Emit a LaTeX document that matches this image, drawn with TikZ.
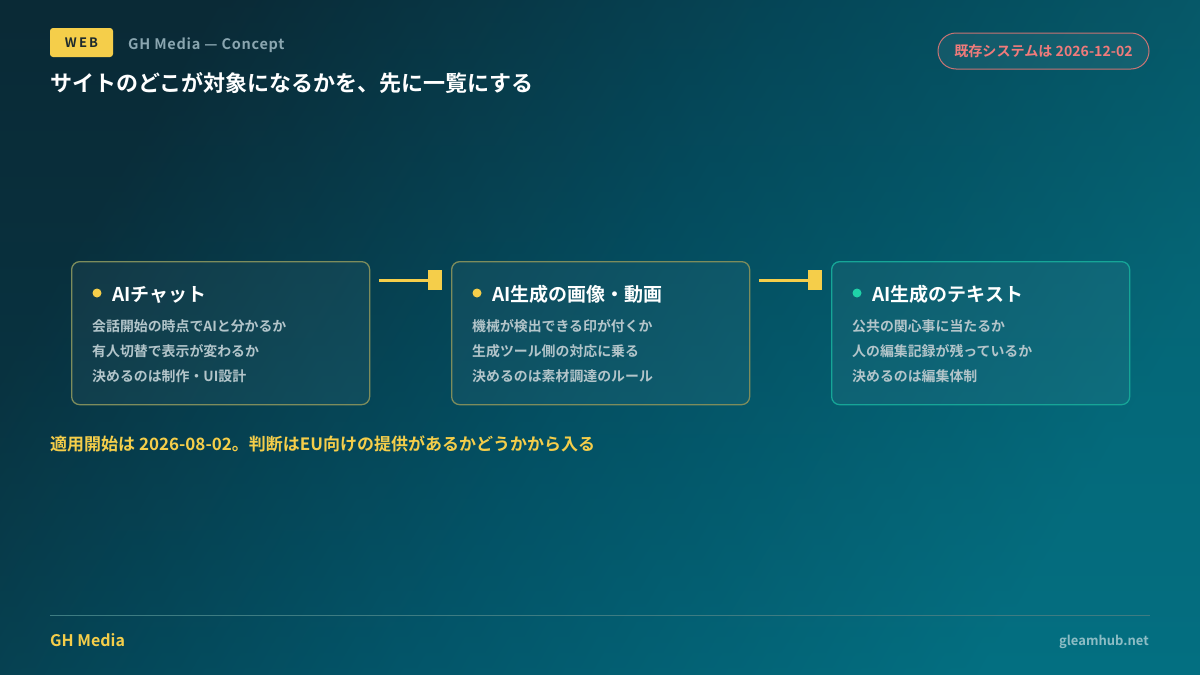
\documentclass[tikz,border=0pt]{standalone}
\usepackage{fontspec}
\setmainfont{Noto Sans CJK JP}[BoldFont={Noto Sans CJK JP Bold}]
\usetikzlibrary{positioning}
\definecolor{bgA}{HTML}{0A2A36}
\definecolor{bgB}{HTML}{03566A}
\definecolor{bgC}{HTML}{047D8E}
\definecolor{accY}{HTML}{F5CE4A}
\definecolor{accT}{HTML}{1FD2A8}
\definecolor{bordY}{HTML}{7D8C5C}
\definecolor{bordT}{HTML}{16A597}
\definecolor{subG}{HTML}{8AA6B0}
\definecolor{bodyG}{HTML}{B3C5CA}
\definecolor{pillR}{HTML}{F07B7B}
\definecolor{pillB}{HTML}{C97474}
\definecolor{footL}{HTML}{3E7C82}
\definecolor{footR}{HTML}{8DBDC5}
\definecolor{dark}{HTML}{1D2A2E}
\tikzset{
  card/.style={draw=#1, line width=1.3pt, rounded corners=8pt, fill=white, fill opacity=0.045, text opacity=1, minimum width=298pt, minimum height=143pt, anchor=north west, inner sep=0pt},
  cardtitle/.style={anchor=base west, text=white, font=\bfseries\fontsize{19}{21}\selectfont, inner sep=0pt},
  cardline/.style={anchor=base west, text=bodyG, font=\bfseries\fontsize{13.9}{15}\selectfont, inner sep=0pt},
  dotmark/.style={circle, fill=#1, minimum size=9pt, inner sep=0pt},
  link/.style={draw=accY, line width=3pt},
  linkend/.style={fill=accY, minimum width=14pt, minimum height=20pt, inner sep=0pt},
}
\begin{document}
\begin{tikzpicture}[x=1pt,y=-1pt]
\useasboundingbox (0,0) rectangle (1200,675);
\shade[shading=axis, left color=bgA, right color=bgC, middle color=bgB, shading angle=60] (0,0) rectangle (1200,675);
\shade[shading=axis, top color=bgA, bottom color=bgB, opacity=0.35] (0,0) rectangle (1200,675);

% header
\node[fill=accY, rounded corners=3pt, minimum width=63pt, minimum height=29pt, inner sep=0pt, text=dark, font=\bfseries\fontsize{13}{14}\selectfont] (web) at (81.5,42.5) {W\,E\,B};
\node[anchor=base west, inner sep=0pt, text=subG, font=\bfseries\fontsize{14.5}{16}\selectfont\addfontfeature{LetterSpace=5}] (sub) at (128,49) {GH Media — Concept};
\node[anchor=base west, inner sep=0pt, text=white, font=\bfseries\fontsize{22}{24}\selectfont] (title) at (50,91) {サイトのどこが対象になるかを、先に一覧にする};
\node[draw=pillB, line width=1pt, fill=white, fill opacity=0.06, text opacity=1, rounded corners=18pt, minimum width=211pt, minimum height=36pt, inner sep=0pt, text=pillR, font=\bfseries\fontsize{14.1}{15}\selectfont] (pill) at (1043.5,51) {既存システムは 2026-12-02};

% cards
\node[card=bordY] (c1) at (71,261) {};
\node[card=bordY] (c2) at (451,261) {};
\node[card=bordT] (c3) at (831,261) {};

\node[dotmark=accY] (d1) at (97,293) {};
\node[cardtitle] (t1) at (112,301) {AIチャット};
\node[cardline] (l11) at (92,331) {会話開始の時点でAIと分かるか};
\node[cardline] (l12) at (92,356) {有人切替で表示が変わるか};
\node[cardline] (l13) at (92,381) {決めるのは制作・UI設計};

\node[dotmark=accY] (d2) at (477,293) {};
\node[cardtitle] (t2) at (492,301) {AI生成の画像・動画};
\node[cardline] (l21) at (472,331) {機械が検出できる印が付くか};
\node[cardline] (l22) at (472,356) {生成ツール側の対応に乗る};
\node[cardline] (l23) at (472,381) {決めるのは素材調達のルール};

\node[dotmark=accT] (d3) at (857,293) {};
\node[cardtitle] (t3) at (872,301) {AI生成のテキスト};
\node[cardline] (l31) at (852,331) {公共の関心事に当たるか};
\node[cardline] (l32) at (852,356) {人の編集記録が残っているか};
\node[cardline] (l33) at (852,381) {決めるのは編集体制};

% connectors
\coordinate (s1) at (379,280);
\node[linkend] (e1) at (435,280) {};
\draw[link] (s1) -- (e1.west);
\coordinate (s2) at (759,280);
\node[linkend] (e2) at (815,280) {};
\draw[link] (s2) -- (e2.west);

% note
\node[anchor=base west, inner sep=0pt, text=accY, font=\bfseries\fontsize{17}{19}\selectfont] (note) at (50,450) {適用開始は 2026-08-02。判断はEU向けの提供があるかどうかから入る};

% footer
\coordinate (fl) at (50,615);
\coordinate (fr) at (1150,615);
\draw[footL, line width=0.8pt] (fl) -- (fr);
\node[anchor=base west, inner sep=0pt, text=accY, font=\bfseries\fontsize{16}{17}\selectfont] (brand) at (50,646) {GH Media};
\node[anchor=base east, inner sep=0pt, text=footR, font=\bfseries\fontsize{13}{15}\selectfont] (site) at (1149,645) {gleamhub.net};
\end{tikzpicture}
\end{document}
